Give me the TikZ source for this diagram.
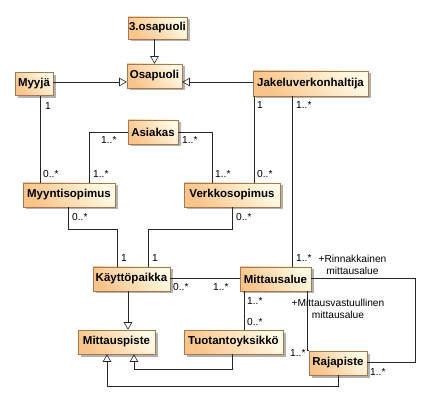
\documentclass[tikz,border=0pt]{standalone}
\usepackage{fontspec}
\setmainfont{Liberation Sans}
\usetikzlibrary{arrows.meta,shadows}
\definecolor{clight}{RGB}{255,250,228}
\definecolor{cdark}{RGB}{249,196,138}
\definecolor{boxline}{RGB}{165,120,80}
\tikzset{
  cls/.style={draw=boxline, line width=0.6pt, top color=clight, bottom color=cdark, shading angle=-50,
    drop shadow={shadow xshift=2.5pt, shadow yshift=-2.5pt, opacity=0.3, fill=black},
    inner sep=0pt, font=\bfseries\fontsize{11.5}{13}\selectfont, text=black},
  lbl/.style={inner sep=0pt, anchor=north west, font=\fontsize{10.2}{12}\selectfont},
  role/.style={inner sep=0pt, anchor=north, align=center, font=\fontsize{10.2}{12}\selectfont},
  conn/.style={line width=0.6pt, draw=black!85},
  gen/.style={conn, -{Triangle[open, length=7.5pt, width=8.5pt]}}
}
\begin{document}
\begin{tikzpicture}[x=1pt, y=-1pt]
\useasboundingbox (0,0) rectangle (429,401);
% classes
\node[cls, minimum width=59pt, minimum height=22pt] (osa3) at (157.5,28) {3.osapuoli};
\node[cls, minimum width=55pt, minimum height=24pt] (osa) at (154.5,76) {Osapuoli};
\node[cls, minimum width=38pt, minimum height=23pt] (myyja) at (34,84) {Myyjä};
\node[cls, minimum width=115pt, minimum height=25pt] (jak) at (310.5,83.5) {Jakeluverkonhaltija};
\node[cls, minimum width=50pt, minimum height=24pt] (asi) at (153,132) {Asiakas};
\node[cls, minimum width=92pt, minimum height=24pt] (myyn) at (69,195) {Myyntisopimus};
\node[cls, minimum width=96pt, minimum height=24pt] (verk) at (232,195) {Verkkosopimus};
\node[cls, minimum width=77pt, minimum height=24pt] (kay) at (131.5,279) {Käyttöpaikka};
\node[cls, minimum width=71pt, minimum height=24pt] (mitt) at (275.5,279) {Mittausalue};
\node[cls, minimum width=77pt, minimum height=24pt] (mp) at (116.5,342) {Mittauspiste};
\node[cls, minimum width=99pt, minimum height=24pt] (tuo) at (233.5,342) {Tuotantoyksikkö};
\node[cls, minimum width=58pt, minimum height=24pt] (raja) at (338,363) {Rajapiste};
% generalizations
\draw[gen] (osa3.south -| osa.north) -- (osa.north);
\draw[gen] ([yshift=2pt]myyja.east) -- ([yshift=2pt]myyja.east -| osa.west);
\draw[gen] ([yshift=1.5pt]jak.west) -- ([yshift=1.5pt]jak.west -| osa.east);
\draw[gen] ([xshift=-3.5pt]kay.south) -- ([xshift=-3.5pt]kay.south |- mp.north);
\draw[gen] ([xshift=-1.5pt]tuo.south) -- ++(0,15) -| ([xshift=17.5pt]mp.south);
\draw[gen] (raja.south) -- ++(0,11) -| ([xshift=-9.5pt]mp.south);
% associations
\draw[conn] ([xshift=6pt]myyja.south) -- ([xshift=6pt]myyja.south |- myyn.north);
\draw[conn] (asi.west) -| ([xshift=20pt]myyn.north);
\draw[conn] (asi.east) -| ([xshift=-20pt]verk.north);
\draw[conn] ([xshift=-56.5pt]jak.south) -- ([xshift=-56.5pt]jak.south |- verk.north);
\draw[conn] ([xshift=-18.5pt]jak.south) -- ([xshift=-18.5pt]jak.south |- mitt.north);
\draw[conn] ([xshift=-1pt]myyn.south) -- ++(0,22) -| ([xshift=-14.5pt]kay.north);
\draw[conn] (verk.south) -- ++(0,22) -| ([xshift=16.5pt]kay.north);
\draw[conn] ([yshift=1pt]kay.east) -- ([yshift=1pt]kay.east -| mitt.west);
\draw[conn] ([xshift=-31.5pt]mitt.south) -- ([xshift=-31.5pt]mitt.south |- tuo.north);
\draw[conn] ([xshift=31.5pt]mitt.south) |- (raja.north west);
\draw[conn] ([yshift=1pt]mitt.east) -- ++(104,0) |- ([yshift=1pt]raja.east);
% multiplicities
\node[lbl] (l1) at (45,102) {1};
\node[lbl] (l2) at (257,101) {1};
\node[lbl] (l3) at (296,101) {1..*};
\node[lbl] (l4) at (101,136) {1..*};
\node[lbl] (l5) at (182,136) {1..*};
\node[lbl] (l6) at (43,170) {0..*};
\node[lbl] (l7) at (93,170) {1..*};
\node[lbl] (l8) at (215,170) {1..*};
\node[lbl] (l9) at (257,170) {0..*};
\node[lbl] (l10) at (72,213) {0..*};
\node[lbl] (l11) at (236,213) {0..*};
\node[lbl] (l12) at (121,254) {1};
\node[lbl] (l13) at (152,254) {1};
\node[lbl] (l14) at (173,283) {0..*};
\node[lbl] (l15) at (213,283) {1..*};
\node[lbl] (l16) at (296,254) {1..*};
\node[lbl] (l17) at (247,297) {1..*};
\node[lbl] (l18) at (247,318) {0..*};
\node[lbl] (l19) at (290,349) {1..*};
\node[lbl] (l20) at (370,368) {1..*};
% role names
\node[role] (r1) at (352.5,254.5) {+Rinnakkainen\\mittausalue};
\node[role] (r2) at (338,299) {+Mittausvastuullinen\\mittausalue};
\end{tikzpicture}
\end{document}
